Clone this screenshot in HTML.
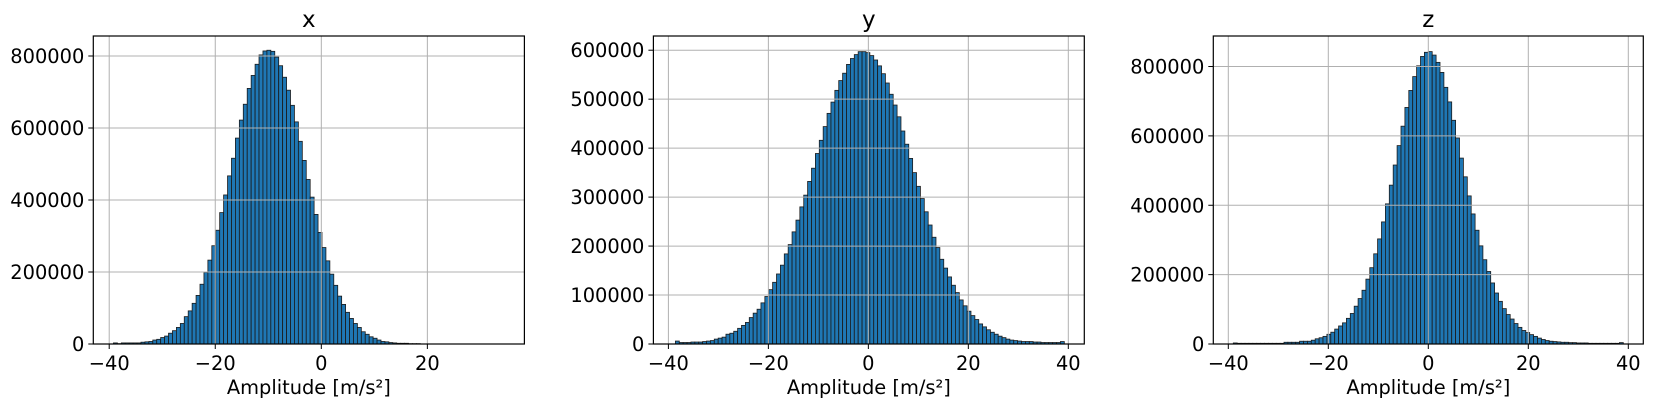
<!DOCTYPE html>
<html><head><meta charset="utf-8">
<style>
html,body{margin:0;padding:0;background:#fff;}
svg{display:block;font-family:"DejaVu Sans","Liberation Sans",sans-serif;}
</style></head>
<body>
<svg id="fig" width="1653" height="407" viewBox="0 0 1653 407"></svg>
<script>
// ---- data ----
const titles = ["x", "y", "z"];
const binStartX = -39.2, binWidthX = 0.742;
const binStartY = -38.6, binWidthY = 0.778;
const binStartZ = -39.0, binWidthZ = 0.78;
const countsX = [3,1,3,3,3,3,3,5,6,7,11,13,18,22,30,37,46,57,76,92,113,135,166,199,233,273,316,365,414,467,516,572,622,666,710,746,777,803,814,816,813,797,773,741,705,663,617,563,510,457,408,360,310,268,231,194,163,133,110,88,71,57,46,34,27,20,16,11,7,6,4,3,2,2,2,1,1,1,0,0,0,0,0,0,0,0,0,0,0,0,0,0,0,0,0,0,0,0,0,0];
const countsY = [6,3,3,3,4,4,4,5,6,7,10,12,14,20,22,26,32,38,44,54,63,71,84,97,111,126,143,161,184,203,229,253,280,304,332,359,389,416,444,471,494,518,538,553,571,583,591,597,597,595,589,580,568,552,533,510,488,464,435,408,379,350,322,297,270,243,218,197,173,155,137,120,105,90,78,67,58,50,41,35,29,24,20,16,13,10,8,7,6,5,5,5,4,4,3,3,3,3,3,5];
const countsZ = [3,2,2,2,2,2,2,2,2,2,2,2,2,5,5,5,5,8,8,8,11,15,18,22,28,34,43,52,61,74,88,109,131,155,187,220,260,303,352,404,458,516,572,628,682,731,771,802,829,841,843,833,812,783,740,698,645,594,536,482,427,375,328,283,243,209,176,147,123,102,85,72,59,48,39,33,27,22,17,13,10,8,7,6,5,5,4,4,3,3,3,2,2,2,2,2,2,2,2,4];
const xTicks = [-40, -20, 0, 20, 40];
const yTicksX = [0, 200000, 400000, 600000, 800000];
const yTicksY = [0, 100000, 200000, 300000, 400000, 500000, 600000];
const yTicksZ = [0, 200000, 400000, 600000, 800000];

const panels = [
  {title: titles[0], counts: countsX, start: binStartX, width: binWidthX, yTicks: yTicksX, left: 93.3, right: 524.4, xmin: -43.0, xmax: 38.3, ymax: 855556},
  {title: titles[1], counts: countsY, start: binStartY, width: binWidthY, yTicks: yTicksY, left: 653.4, right: 1084.3, xmin: -43.0, xmax: 43.2, ymax: 629000},
  {title: titles[2], counts: countsZ, start: binStartZ, width: binWidthZ, yTicks: yTicksZ, left: 1213.3, right: 1643.3, xmin: -43.0, xmax: 43.0, ymax: 888000}
];
const TOP = 36, BOTTOM = 344;
const NS = "http://www.w3.org/2000/svg";
const svg = document.getElementById("fig");
function mk(tag, attrs, parent) {
  const e = document.createElementNS(NS, tag);
  for (const k in attrs) e.setAttribute(k, attrs[k]);
  parent.appendChild(e);
  return e;
}
panels.forEach((p, pi) => {
  const g = mk("g", {}, svg);
  
  
  const xs = v => p.left + (v - p.xmin) / (p.xmax - p.xmin) * (p.right - p.left);
  const ys = v => BOTTOM - v / p.ymax * (BOTTOM - TOP);
  const bg = mk("g", {}, g);
  
  
  p.counts.forEach((c, i) => {
    if (c <= 0) return;
    const x0 = xs(p.start + i * p.width), x1 = xs(p.start + (i + 1) * p.width);
    const y = ys(c * 1000);
    const r = mk("rect", {x: x0, y: y, width: x1 - x0, height: BOTTOM - y, fill: "#1f77b4", stroke: "#1a1a1a", "stroke-width": 0.8}, bg);
    
    
  });
  xTicks.forEach(t => {
    const x = xs(t);
    if (x < p.left - 0.5 || x > p.right + 0.5) return;
    const l = mk("line", {x1: x, x2: x, y1: TOP, y2: BOTTOM, stroke: "#b0b0b0", "stroke-width": 1}, g);
    
    
    const tk = mk("line", {x1: x, x2: x, y1: BOTTOM, y2: BOTTOM + 5, stroke: "#000", "stroke-width": 1}, g);
    
    
    const tx = mk("text", {x: x, y: BOTTOM + 26, "text-anchor": "middle", "font-size": 19.4, fill: "#000"}, g);
    tx.textContent = t < 0 ? "\u2212" + Math.abs(t) : String(t);
    
    
  });
  p.yTicks.forEach(t => {
    const y = ys(t);
    const l = mk("line", {x1: p.left, x2: p.right, y1: y, y2: y, stroke: "#b0b0b0", "stroke-width": 1}, g);
    
    
    const tk = mk("line", {x1: p.left - 5, x2: p.left, y1: y, y2: y, stroke: "#000", "stroke-width": 1}, g);
    
    
    const tx = mk("text", {x: p.left - 9, y: y + 7, "text-anchor": "end", "font-size": 19.4, fill: "#000"}, g);
    tx.textContent = String(t);
    
    
  });
  const fr = mk("rect", {x: p.left, y: TOP, width: p.right - p.left, height: BOTTOM - TOP, fill: "none", stroke: "#000", "stroke-width": 1.2}, g);
  
  
  const ti = mk("text", {x: (p.left + p.right) / 2, y: 27, "text-anchor": "middle", "font-size": 23, fill: "#000"}, g);
  ti.textContent = p.title;
  
  
  const xl = mk("text", {x: (p.left + p.right) / 2, y: 394, "text-anchor": "middle", "font-size": 19.4, fill: "#000"}, g);
  xl.textContent = "Amplitude [m/s\u00b2]";
  
  
});
</script>
</body></html>
